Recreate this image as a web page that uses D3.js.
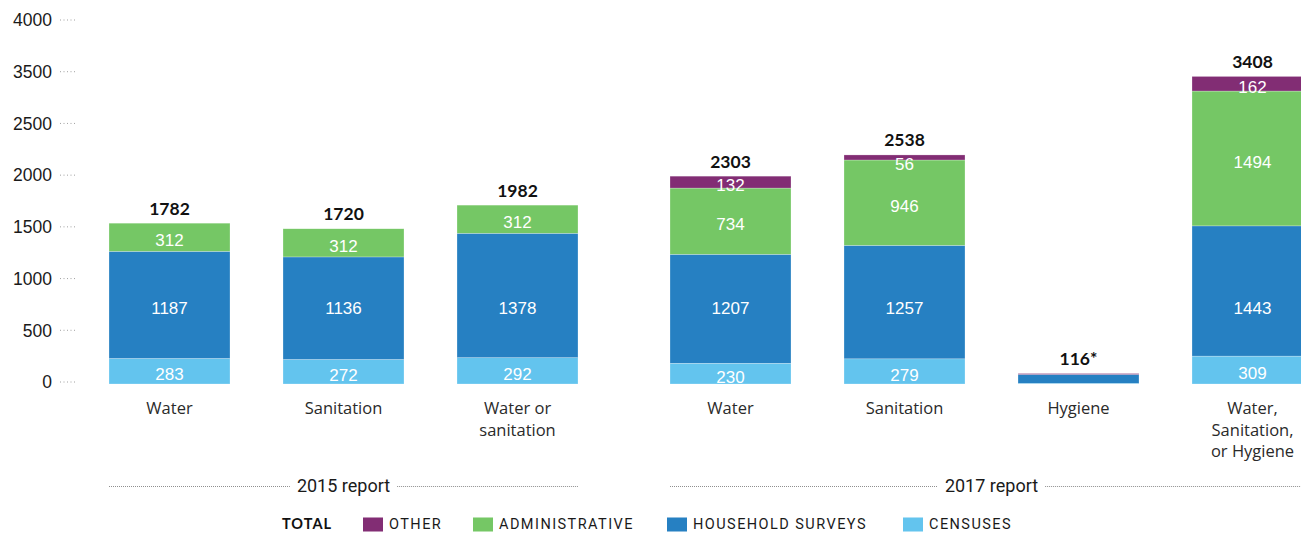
<!DOCTYPE html>
<html>
<head>
<meta charset="utf-8">
<script src="https://cdn.jsdelivr.net/npm/d3@7"></script>
<style>
  html, body { margin: 0; padding: 0; background: #fff; }
  svg { display: block; }
</style>
</head>
<body>
<svg id="chart" width="1301" height="533"></svg>
<script>
// Data sources behind each monitoring estimate, by report and service
const categoryIds = ["w15", "s15", "ws15", "w17", "s17", "h17", "wsh17"];
const categoryLabels = [
  ["Water"], ["Sanitation"], ["Water or", "sanitation"],
  ["Water"], ["Sanitation"], ["Hygiene"], ["Water,", "Sanitation,", "or Hygiene"]
];
const reportOf = ["2015 report", "2015 report", "2015 report",
                  "2017 report", "2017 report", "2017 report", "2017 report"];
const reports = ["2015 report", "2017 report"];

const censuses       = [283, 272, 292, 230, 279, 8, 309];
const household      = [1187, 1136, 1378, 1207, 1257, 98, 1443];
const administrative = [312, 312, 312, 734, 946, 0, 1494];
const other          = [0, 0, 0, 132, 56, 10, 162];
const totalLabels    = ["1782", "1720", "1982", "2303", "2538", "116*", "3408"];
// Hygiene segments are not labelled
const showSegmentLabels = [true, true, true, true, true, false, true];

const tickLabels = ["0", "500", "1000", "1500", "2000", "2500", "3500", "4000"];

const seriesKeys   = ["censuses", "household", "administrative", "other"];
const seriesNames  = ["CENSUSES", "HOUSEHOLD SURVEYS", "ADMINISTRATIVE", "OTHER"];
const seriesColors = ["#63c4ee", "#2680c2", "#75c765", "#822d74"];
const legendOrder  = ["other", "administrative", "household", "censuses"];

const rows = categoryIds.map((id, i) => ({
  id, i,
  censuses: censuses[i], household: household[i],
  administrative: administrative[i], other: other[i]
}));

const svg = d3.select("#chart");

// Scales
const groupGap = 39;
const x = d3.scaleBand().domain(categoryIds).range([109, 1274])
  .paddingInner(53 / 174).paddingOuter(0);
const xPos = id => x(id) + (reportOf[categoryIds.indexOf(id)] === "2017 report" ? groupGap : 0);
const y = d3.scaleLinear().domain([0, 4000]).range([384, 23]);
const tickY = d3.scalePoint().domain(tickLabels).range([382, 20]);
const color = d3.scaleOrdinal().domain(seriesKeys).range(seriesColors);

// Y axis: labels with short dotted leaders
const yAxis = svg.append("g").attr("class", "y-axis");
const tick = yAxis.selectAll("g").data(tickLabels).join("g")
  .attr("transform", d => `translate(0,${tickY(d)})`);
tick.append("text")
  .attr("x", 52).attr("dy", "0.36em")
  .attr("text-anchor", "end")
  .attr("font-family", "'Liberation Sans', Arial, sans-serif")
  .attr("font-size", 17.5).attr("fill", "#1a1a1a")
  .text(d => d);
tick.append("line")
  .attr("x1", 60).attr("x2", 76)
  .attr("stroke", "#a0a0a0").attr("stroke-width", 1)
  .attr("stroke-dasharray", "1,2.5");

// Stacked bars
const stacked = d3.stack().keys(seriesKeys)(rows);
const layers = svg.append("g").selectAll("g").data(stacked).join("g")
  .attr("fill", d => color(d.key));
layers.selectAll("rect").data(d => d).join("rect")
  .attr("x", d => xPos(d.data.id))
  .attr("width", x.bandwidth())
  .attr("y", d => y(d[1]))
  .attr("height", d => Math.max(0, y(d[0]) - y(d[1])))
  .attr("stroke", "#ffffff").attr("stroke-opacity", 0.5).attr("stroke-width", 0.5);

// Segment value labels (survey counts sit on a common row)
const surveyLabelRow = 308;
const segLabels = svg.append("g");
stacked.forEach(layer => {
  layer.forEach(d => {
    const v = d[1] - d[0];
    if (v <= 0 || !showSegmentLabels[d.data.i]) return;
    const top = y(d[1]), bottom = y(d[0]);
    const cy = layer.key === "household"
      ? surveyLabelRow
      : Math.max((top + bottom) / 2 + 3, top + 9);
    segLabels.append("text")
      .attr("x", xPos(d.data.id) + x.bandwidth() / 2)
      .attr("y", cy).attr("dy", "0.36em")
      .attr("text-anchor", "middle")
      .attr("font-family", "'Liberation Sans', Arial, sans-serif")
      .attr("font-size", 17).attr("fill", "#ffffff")
      .text(v);
  });
});

// Totals above bars
const totals = rows.map(r => censuses[r.i] + household[r.i] + administrative[r.i] + other[r.i]);
svg.append("g").selectAll("text").data(rows).join("text")
  .attr("x", d => xPos(d.id) + x.bandwidth() / 2)
  .attr("y", d => y(totals[d.i]) - 8.5)
  .attr("text-anchor", "middle")
  .attr("font-family", "Lato, sans-serif").attr("font-weight", 700)
  .attr("font-size", 17.5).attr("fill", "#111")
  .text(d => totalLabels[d.i]);

// Category labels
const cat = svg.append("g").selectAll("text").data(rows).join("text")
  .attr("text-anchor", "middle")
  .attr("font-family", "'Open Sans', sans-serif")
  .attr("font-size", 16.5).attr("fill", "#2a2a2a")
  .attr("transform", d => `translate(${xPos(d.id) + x.bandwidth() / 2},414)`);
cat.selectAll("tspan").data(d => categoryLabels[d.i]).join("tspan")
  .attr("x", 0).attr("y", (d, k) => k * 21.5)
  .text(d => d);

// Report group labels with dotted rules
const groups = svg.append("g");
reports.forEach(rep => {
  const ids = categoryIds.filter((id, i) => reportOf[i] === rep);
  const x0 = xPos(ids[0]);
  const x1 = xPos(ids[ids.length - 1]) + x.bandwidth();
  const cx = (x0 + x1) / 2;
  const g = groups.append("g");
  const label = g.append("text")
    .attr("x", cx).attr("y", 486).attr("dy", "0.36em")
    .attr("text-anchor", "middle")
    .attr("font-family", "Roboto, sans-serif")
    .attr("font-size", 18).attr("fill", "#1a1a1a")
    .text(rep);
  const w = label.node().getComputedTextLength();
  const pad = 7;
  [[x0, cx - w / 2 - pad], [cx + w / 2 + pad, x1]].forEach(([a, b]) => {
    g.append("line")
      .attr("x1", a).attr("x2", b).attr("y1", 486.5).attr("y2", 486.5)
      .attr("stroke", "#8f8f8f").attr("stroke-width", 1)
      .attr("stroke-dasharray", "1,1");
  });
});

// Legend
const legend = svg.append("g").attr("transform", "translate(0,523.5)");
legend.append("text")
  .attr("x", 282).attr("dy", "0.36em")
  .attr("font-family", "Lato, sans-serif").attr("font-weight", 700)
  .attr("font-size", 14.5).attr("letter-spacing", 1).attr("fill", "#111")
  .text("TOTAL");
const legendX = [363, 473, 667, 903];
legendOrder.forEach((key, k) => {
  const g = legend.append("g").attr("transform", `translate(${legendX[k]},0)`);
  g.append("rect").attr("x", 0).attr("y", -6).attr("width", 20).attr("height", 14)
    .attr("fill", color(key));
  g.append("text").attr("x", 26).attr("dy", "0.36em")
    .attr("font-family", "Roboto, sans-serif")
    .attr("font-size", 14.5).attr("letter-spacing", 1.45).attr("fill", "#1a1a1a")
    .text(seriesNames[seriesKeys.indexOf(key)]);
});
</script>
</body>
</html>
